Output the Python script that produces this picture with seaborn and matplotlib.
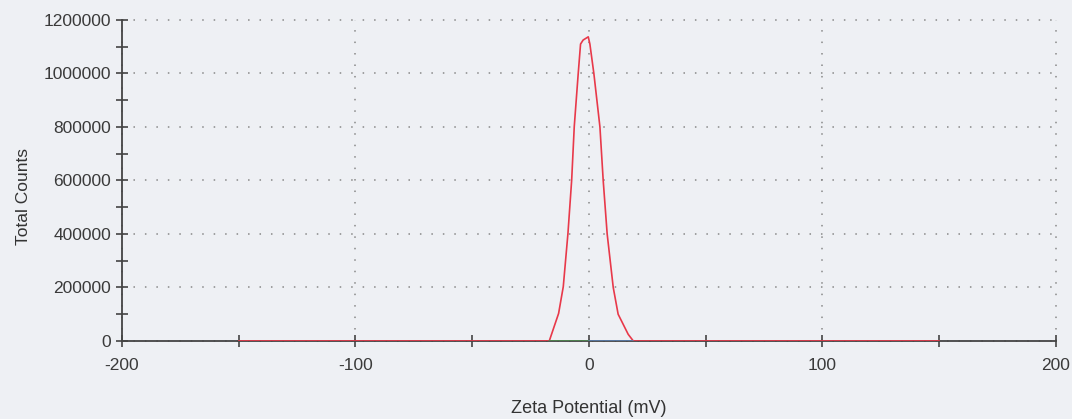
import matplotlib
matplotlib.use("Agg")
import matplotlib.pyplot as plt
import seaborn as sns
import pandas as pd
from matplotlib.ticker import MultipleLocator

# zeta potential distribution
zeta_mv = [-150, -17, -13, -11, -9, -7.4, -6.3, -4.6, -3.6, -2.5, -0.3,
           0.4, 2.1, 4.7, 6.1, 7.8, 10.4, 12.5, 16.8, 19, 150]
counts = [0, 0, 103000, 203000, 402000, 602000, 801000, 1000000, 1110000,
          1125000, 1137000, 1110000, 1000000, 800000, 600000, 400000,
          200000, 100000, 25000, 0, 0]

# faint baseline traces under the peak
base_green_x = [-17, 0]
base_green_y = [0, 0]
base_blue_x = [0, 19]
base_blue_y = [0, 0]

bg = "#eef0f4"
sns.set_style("white")
plt.rcParams['font.family'] = ['Liberation Sans', 'DejaVu Sans']
plt.rcParams['axes.unicode_minus'] = False

fig = plt.figure(figsize=(10.72, 4.19), dpi=100, facecolor=bg)
ax = fig.add_axes([0.1138, 0.1862, 0.8712, 0.7661])
ax.set_facecolor(bg)

red = pd.DataFrame({"zeta": zeta_mv, "counts": counts})
sns.lineplot(data=red, x="zeta", y="counts", sort=False, color="#e8394a",
             linewidth=1.2, ax=ax)
sns.lineplot(x=base_green_x, y=base_green_y, color="#4e8a4e", linewidth=1.2, ax=ax)
sns.lineplot(x=base_blue_x, y=base_blue_y, color="#5a7fb0", linewidth=1.2, ax=ax)

ax.set_xlim(-200, 200)
ax.set_ylim(0, 1200000)
ax.xaxis.set_major_locator(MultipleLocator(100))
ax.xaxis.set_minor_locator(MultipleLocator(50))
ax.yaxis.set_major_locator(MultipleLocator(200000))
ax.yaxis.set_minor_locator(MultipleLocator(100000))
ax.ticklabel_format(axis="y", style="plain")

ax.grid(True, which="major", linestyle=(0, (1, 6.5)), linewidth=1.1, color="#888888")
for gl in ax.get_xgridlines() + ax.get_ygridlines():
    gl.set_clip_on(False)

for side in ["top", "right"]:
    ax.spines[side].set_visible(False)
for side in ["left", "bottom"]:
    ax.spines[side].set_color("#444444")
    ax.spines[side].set_linewidth(1.3)
    ax.spines[side].set_zorder(1)

ax.tick_params(which="both", bottom=True, left=True, direction="inout",
               length=8, width=1.2, color="#444444")
ax.tick_params(which="major", labelsize=12.5, labelcolor="#3a3a3a")
ax.tick_params(axis="x", pad=8)
ax.tick_params(axis="y", pad=4)

ax.set_xlabel("Zeta Potential (mV)", fontsize=13, color="#333333", labelpad=20)
ax.set_ylabel("Total Counts", fontsize=12.5, color="#333333")
ax.yaxis.set_label_coords(-0.097, 0.45)

fig.savefig("out.png", dpi=100, facecolor=bg)
